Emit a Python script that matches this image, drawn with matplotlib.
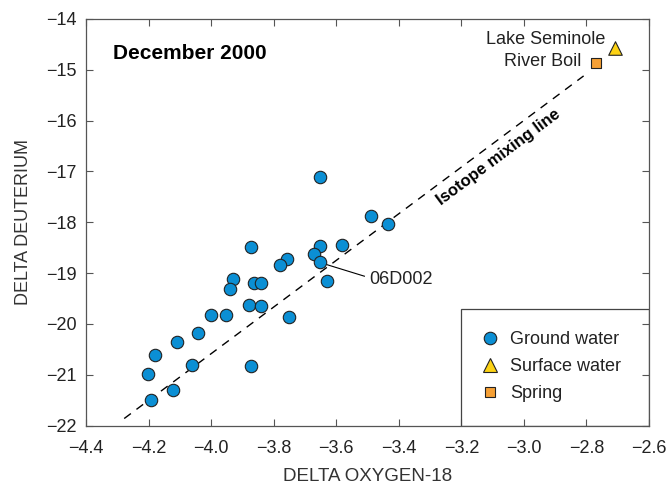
import matplotlib
matplotlib.use("Agg")
import matplotlib.pyplot as plt
from matplotlib.patches import Rectangle
from matplotlib.lines import Line2D

plt.rcParams['font.family'] = ['Liberation Sans', 'DejaVu Sans']

# ground water samples (delta O-18, delta D)
gw_o18 = [-3.651, -3.490, -3.436, -3.871, -3.651, -3.581, -3.672, -3.759, -3.780,
          -3.651, -3.930, -3.862, -3.841, -3.631, -3.940, -3.880, -3.841, -4.000,
          -3.953, -3.751, -4.041, -4.110, -4.181, -4.060, -3.871, -4.201, -4.122,
          -4.191]
gw_d = [-17.10, -17.87, -18.04, -18.49, -18.47, -18.44, -18.63, -18.73, -18.83,
        -18.78, -19.12, -19.19, -19.20, -19.15, -19.32, -19.62, -19.65, -19.83,
        -19.83, -19.87, -20.17, -20.35, -20.61, -20.81, -20.83, -20.99, -21.30,
        -21.50]

# surface water (Lake Seminole) and spring (River Boil)
sw_o18, sw_d = [-2.710], [-14.58]
sp_o18, sp_d = [-2.771], [-14.87]

# isotope mixing line end points
mix_o18 = [-4.278, -2.809]
mix_d = [-21.86, -15.12]

blue = '#0b8fd4'
yellow = '#fcd214'
orange = '#f6a035'
txt = '#222222'

fig = plt.figure(figsize=(6.67, 4.87), dpi=100)
ax = fig.add_axes([0.129, 0.126, 0.844, 0.835])

ax.plot(mix_o18, mix_d, color='black', lw=1.0, dashes=(6, 5))
ax.scatter(gw_o18, gw_d, s=80, c=blue, edgecolors='#222222', linewidths=0.8, zorder=3)
ax.scatter(sw_o18, sw_d, s=95, marker='^', c=yellow, edgecolors='#222222', linewidths=0.8, zorder=3)
ax.scatter(sp_o18, sp_d, s=60, marker='s', c=orange, edgecolors='#222222', linewidths=0.8, zorder=3)

ax.set_xlim(-4.4, -2.6)
ax.set_ylim(-22, -14)
ax.set_xticks([-4.4, -4.2, -4.0, -3.8, -3.6, -3.4, -3.2, -3.0, -2.8, -2.6])
ax.set_yticks(range(-22, -13))
ax.xaxis.set_major_formatter(plt.FuncFormatter(lambda v, p: f'{v:.1f}'.replace('-', '\u2212')))
ax.yaxis.set_major_formatter(plt.FuncFormatter(lambda v, p: f'{v:.0f}'.replace('-', '\u2212')))
ax.tick_params(direction='in', top=True, right=True, length=5, width=0.8,
               labelsize=13, colors='#555555', labelcolor=txt, pad=7)
ax.tick_params(axis='x', pad=10)
for s in ax.spines.values():
    s.set_color('#555555')
    s.set_linewidth(0.9)

ax.set_xlabel('DELTA OXYGEN-18', fontsize=13.5, color='#333333', labelpad=8)
ax.set_ylabel('DELTA DEUTERIUM', fontsize=13, color='#333333', labelpad=10)

ax.text(-4.315, -14.68, 'December 2000', fontsize=15, fontweight='bold', va='center', ha='left')
ax.text(-2.740, -14.41, 'Lake Seminole', fontsize=13, ha='right', va='center', color=txt)
ax.text(-2.815, -14.84, 'River Boil', fontsize=13, ha='right', va='center', color=txt)
ax.text(-3.08, -16.72, 'Isotope mixing line', fontsize=12, fontweight='bold',
        rotation=36.7, rotation_mode='anchor', ha='center', va='center')

# 06D002 leader
ax.plot([-3.642, -3.510], [-18.81, -19.06], color='black', lw=0.8)
ax.text(-3.495, -19.13, '06D002', fontsize=13, ha='left', va='center', color=txt)

# legend box
ax.add_patch(Rectangle((-3.2, -22), 0.6, 2.29, fill=False, edgecolor='#444444', lw=0.9, zorder=4))
handles = [
    Line2D([], [], ls='none', marker='o', ms=9, mfc=blue, mec='#222222', mew=0.8),
    Line2D([], [], ls='none', marker='^', ms=10, mfc=yellow, mec='#222222', mew=0.8),
    Line2D([], [], ls='none', marker='s', ms=7.5, mfc=orange, mec='#222222', mew=0.8),
]
ax.legend(handles, ['Ground water', 'Surface water', 'Spring'], loc='center left',
          bbox_to_anchor=(0.676, 0.145), frameon=False, fontsize=13, borderpad=0,
          handletextpad=0.31, labelspacing=0.55, handlelength=1.6,
          labelcolor=txt)

fig.savefig('out.png', dpi=100)
